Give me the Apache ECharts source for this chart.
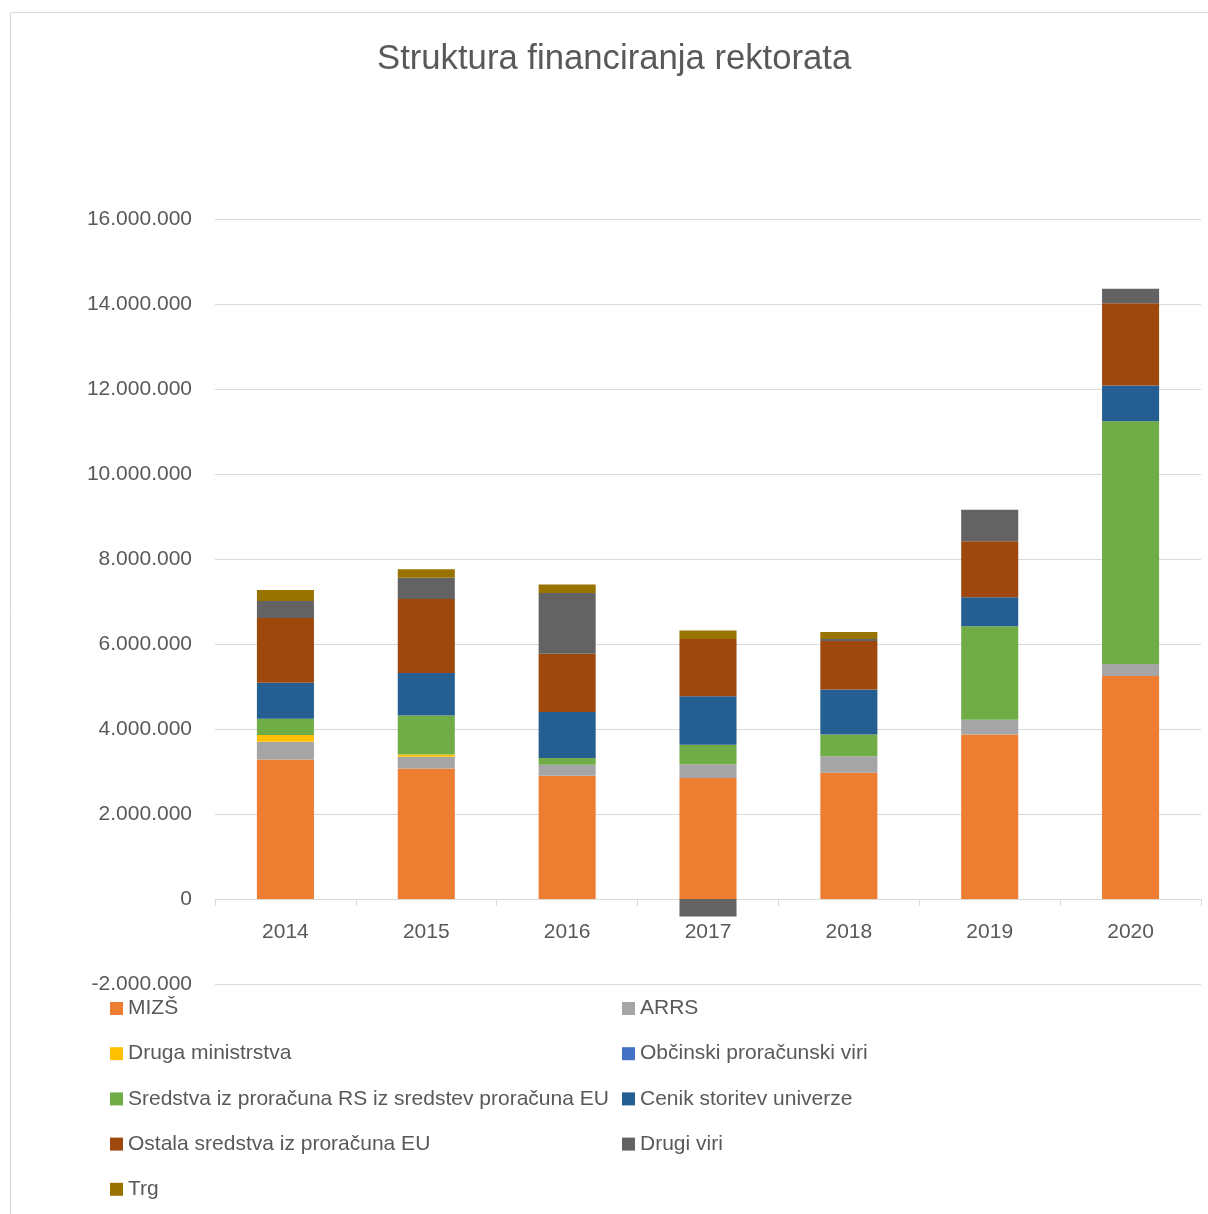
<!DOCTYPE html>
<html><head><meta charset="utf-8">
<script src="https://cdn.jsdelivr.net/npm/echarts@6/dist/echarts.min.js"></script>
<style>html,body{margin:0;padding:0;background:#fff}#c{width:1208px;height:1214px}</style>
</head><body><div id="c"></div>
<script>
const years = ['2014','2015','2016','2017','2018','2019','2020'];
const mizs      = [3280000,3070000,2900000,2850000,2970000,3870000,5250000];
const arrs      = [420000,280000,260000,320000,390000,350000,280000];
const drugaMin  = [160000,50000,0,0,0,0,0];
const obcinski  = [0,0,0,0,0,0,0];
const sredstvaRsEu = [380000,920000,160000,460000,510000,2200000,5710000];
const cenik     = [850000,1000000,1080000,1140000,1060000,680000,840000];
const ostalaEu  = [1520000,1740000,1370000,1350000,1140000,1320000,1940000];
const drugiViri = [400000,500000,1430000,-410000,50000,740000,340000];
const trg       = [260000,200000,200000,200000,160000,0,0];
const yTicks = [-2000000,0,2000000,4000000,6000000,8000000,10000000,12000000,14000000,16000000];

const names = ['MIZŠ','ARRS','Druga ministrstva','Občinski proračunski viri','Sredstva iz proračuna RS iz sredstev proračuna EU','Cenik storitev univerze','Ostala sredstva iz proračuna EU','Drugi viri','Trg'];
const dataSets = [mizs,arrs,drugaMin,obcinski,sredstvaRsEu,cenik,ostalaEu,drugiViri,trg];
const colors = ['#ED7D31','#A5A5A5','#FFC000','#4472C4','#70AD47','#255E91','#9E480E','#636363','#997300'];

function fmt(v){
  const neg = v<0; let s = String(Math.abs(v));
  s = s.replace(/\B(?=(\d{3})+(?!\d))/g,'.');
  return (neg?'-':'')+s;
}
const font = 'Liberation Sans, Arial, sans-serif';
const chart = echarts.init(document.getElementById('c'));
const legendText = {color:'#595959',fontSize:21,fontFamily:font,lineHeight:20};
chart.setOption({
  animation:false,
  color:colors,
  title:{text:'Struktura financiranja rektorata',left:372,top:37,
    textStyle:{color:'#595959',fontSize:34.7,fontWeight:'normal',fontFamily:font}},
  graphic:[{type:'rect',shape:{x:10.5,y:12.5,width:1400,height:1400},style:{fill:'none',stroke:'#d9d9d9',lineWidth:1}}],
  grid:{left:215,right:7,top:219,bottom:230,containLabel:false},
  legend:[
    {orient:'vertical',left:105,top:993,itemWidth:13,itemHeight:13,itemGap:24.2,icon:'rect',
      textStyle:legendText,
      data:[names[0],names[2],names[4],names[6],names[8]]},
    {orient:'vertical',left:617,top:993,itemWidth:13,itemHeight:13,itemGap:24.2,icon:'rect',
      textStyle:legendText,
      data:[names[1],names[3],names[5],names[7]]}
  ],
  xAxis:{type:'category',data:years,
    axisLine:{onZero:true,lineStyle:{color:'#d9d9d9',width:1}},
    axisTick:{show:true,length:7,lineStyle:{color:'#d9d9d9'}},
    axisLabel:{color:'#595959',fontSize:21,fontFamily:font,margin:-62}},
  yAxis:{type:'value',min:yTicks[0],max:yTicks[yTicks.length-1],interval:2000000,
    axisLine:{show:false},axisTick:{show:false},
    splitLine:{lineStyle:{color:'#d9d9d9',width:1}},
    axisLabel:{color:'#595959',fontSize:21,fontFamily:font,margin:23,formatter:fmt}},
  series:names.map((n,i)=>({name:n,type:'bar',stack:'s',barWidth:'40.5%',
    data:dataSets[i],itemStyle:{color:colors[i]}}))
});
</script></body></html>
